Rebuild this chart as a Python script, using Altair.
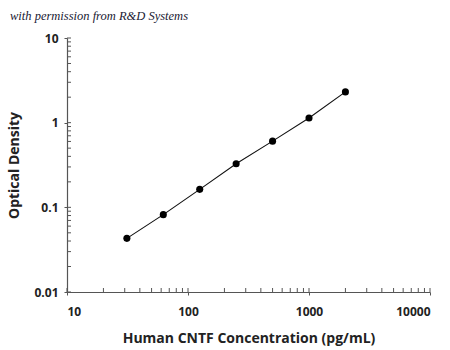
import altair as alt
import pandas as pd

# Data
conc = [31.25, 62.5, 125, 250, 500, 1000, 2000]
od = [0.043, 0.082, 0.163, 0.327, 0.605, 1.135, 2.31]
x_major = [10, 100, 1000, 10000]
y_major = [0.01, 0.1, 1, 10]
x_minor = [m * d for d in (10, 100, 1000) for m in range(2, 10)]
y_minor = [round(m * d, 4) for d in (0.01, 0.1, 1) for m in range(2, 10)]

W, H = 363, 254
AX = "#555555"

xscale = alt.Scale(type="log", domain=[10, 10000], nice=False)
yscale = alt.Scale(type="log", domain=[0.01, 10], nice=False)

df = pd.DataFrame({"conc": conc, "od": od})

enc_x = alt.X("conc:Q", scale=xscale,
              axis=alt.Axis(values=x_major, format="d", labelPadding=11,
                            titlePadding=14,
                            title="Human CNTF Concentration (pg/mL)"))
enc_y = alt.Y("od:Q", scale=yscale,
              axis=alt.Axis(values=y_major, format="~g", labelPadding=6,
                            titlePadding=12,
                            title="Optical Density"))

line = alt.Chart(df).mark_line(color="#111111", strokeWidth=1.1).encode(x=enc_x, y=enc_y)
pts = alt.Chart(df).mark_circle(color="#000000", opacity=1, size=50).encode(x=enc_x, y=enc_y)

xt = alt.Chart(pd.DataFrame({"conc": x_minor + x_major})).mark_rule(
    color=AX, strokeWidth=1).encode(
    x=alt.X("conc:Q", scale=xscale),
    y=alt.value(H), y2=alt.value(H - 4))
yt = alt.Chart(pd.DataFrame({"od": y_minor + y_major})).mark_rule(
    color=AX, strokeWidth=1).encode(
    y=alt.Y("od:Q", scale=yscale),
    x=alt.value(0), x2=alt.value(4))

chart = alt.layer(line, pts, xt, yt).properties(
    width=W, height=H,
    autosize=alt.AutoSizeParams(type="none"),
    padding={"left": 67, "top": 38, "right": 20, "bottom": 58},
    title=alt.TitleParams(
        "with permission from R&D Systems", anchor="start", frame="group",
        font="Liberation Serif", fontStyle="italic", fontWeight="normal",
        fontSize=12.5, color="#1a1a33", dx=-57, offset=10),
).configure_view(stroke=None).configure_axis(
    grid=False, domainColor=AX, tickColor=AX, tickSize=3, domainWidth=1.2,
    labelFont="Open Sans", labelFontWeight="bold", labelFontSize=12,
    labelColor="#222222",
    titleFont="Open Sans", titleFontWeight="bold", titleFontSize=14,
    titleColor="#222222",
)

chart.save("out.html", embed_options={"renderer": "svg", "actions": False})
